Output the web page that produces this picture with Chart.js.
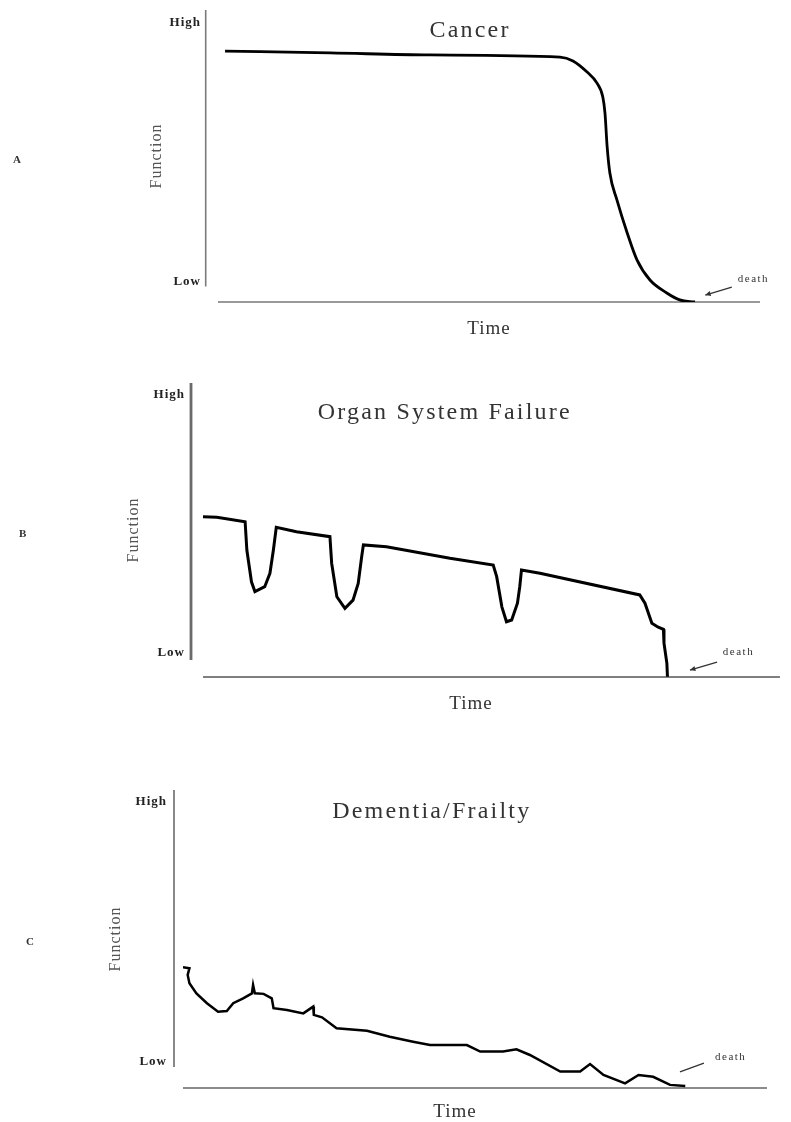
<!DOCTYPE html>
<html>
<head>
<meta charset="utf-8">
<script src="https://cdn.jsdelivr.net/npm/chart.js@4.4.1/dist/chart.umd.min.js"></script>
<style>
  html, body { margin: 0; padding: 0; background: #fff; }
  body { width: 791px; height: 1122px; position: relative; overflow: hidden; font-family: "Liberation Serif", serif; }
  canvas { position: absolute; left: 0; }
  .panel { position: absolute; font-size: 11px; font-weight: bold; color: #333; }
</style>
</head>
<body>
<canvas id="cancerChart" width="791" height="350" style="top:0"></canvas>
<canvas id="organChart" width="791" height="370" style="top:355px"></canvas>
<canvas id="frailtyChart" width="791" height="354" style="top:770px"></canvas>
<div class="panel" style="left:13px;top:153px">A</div>
<div class="panel" style="left:19px;top:527px">B</div>
<div class="panel" style="left:26px;top:935px">C</div>
<script>
// y axis only marks the two ends of the scale
const levelTicks = [0, 1];
const levelLabels = ["Low", "High"];

// A - cancer: long plateau, then a steep fall
const cancerTime = [1.3, 20.7, 39.1, 63.1, 65.5, 68.1, 69.9, 71.0, 71.4, 71.8, 72.3, 73.6, 75.5, 77.3, 79.7, 82.8, 85.2, 88.0];
const cancerFunction = [0.891, 0.884, 0.876, 0.868, 0.853, 0.810, 0.768, 0.713, 0.651, 0.520, 0.419, 0.315, 0.187, 0.083, 0.005, -0.045, -0.072, -0.080];

// B - organ system failure: slow decline with acute dips
const organTime = [0, 2.4, 7.3, 7.6, 8.4, 9.0, 10.7, 11.6, 12.2, 12.7, 16.2, 22.0, 22.3, 23.2, 24.6, 26.0, 26.9, 27.5, 27.8, 31.8,
    42.8, 50.3, 50.9, 51.8, 52.6, 53.5, 54.5, 54.9, 55.2, 58.4, 75.7, 76.6, 77.8, 78.9, 79.8, 79.9, 80.4, 80.5];
const organFunction = [0.528, 0.526, 0.509, 0.399, 0.276, 0.238, 0.257, 0.309, 0.399, 0.487, 0.470, 0.451, 0.348, 0.218, 0.173, 0.205, 0.270, 0.373, 0.419, 0.412,
    0.367, 0.341, 0.296, 0.179, 0.121, 0.128, 0.193, 0.257, 0.322, 0.309, 0.225, 0.193, 0.115, 0.100, 0.092, 0.038, -0.040, -0.092];

// C - dementia / frailty: low start, jagged slow decline
const frailtyTime = [0, 1.1, 0.8, 1.1, 2.3, 4.1, 6.0, 7.5, 8.6, 10.3, 11.8, 12.0, 12.3, 13.8, 15.2, 15.5, 17.8, 20.6, 22.3, 22.4,
    23.8, 26.3, 31.5, 35.4, 39.4, 42.3, 48.6, 50.9, 54.8, 57.1, 59.4, 64.6, 68.0, 69.7, 72.0, 75.7, 78.0, 80.5, 83.4, 86.0];
const frailtyFunction = [0.364, 0.360, 0.335, 0.303, 0.264, 0.226, 0.193, 0.196, 0.226, 0.245, 0.264, 0.296, 0.264, 0.262, 0.245, 0.207, 0.200, 0.187, 0.213, 0.181,
    0.172, 0.130, 0.120, 0.097, 0.078, 0.065, 0.065, 0.040, 0.040, 0.049, 0.027, -0.037, -0.037, -0.008, -0.050, -0.082, -0.050, -0.057, -0.088, -0.092];

Chart.defaults.font.family = '"Liberation Serif", serif';

// detached axis lines, panel title and the "death" pointer
const decor = {
    id: "decor",
    beforeDraw(chart) {
        chart.ctx.letterSpacing = "1px";
    },
    beforeDatasetsDraw(chart) {
        const o = chart.options.plugins.decor;
        const xs = chart.scales.x, ys = chart.scales.y;
        const ctx = chart.ctx;
        ctx.save();
        ctx.strokeStyle = o.yAxisColor;
        ctx.lineWidth = o.yAxisWidth;
        ctx.beginPath();
        ctx.moveTo(xs.getPixelForValue(o.yAxisAt), ys.getPixelForValue(ys.max));
        ctx.lineTo(xs.getPixelForValue(o.yAxisAt), ys.getPixelForValue(o.yAxisEnd));
        ctx.stroke();
        ctx.strokeStyle = o.xAxisColor;
        ctx.lineWidth = o.xAxisWidth;
        ctx.beginPath();
        ctx.moveTo(xs.getPixelForValue(0), ys.getPixelForValue(ys.min));
        ctx.lineTo(xs.getPixelForValue(o.xAxisEnd), ys.getPixelForValue(ys.min));
        ctx.stroke();
        ctx.restore();
    },
    afterDraw(chart) {
        const o = chart.options.plugins.decor;
        const xs = chart.scales.x, ys = chart.scales.y;
        const ctx = chart.ctx;
        const px = v => xs.getPixelForValue(v);
        const py = v => ys.getPixelForValue(v);
        ctx.save();
        ctx.fillStyle = "#333";
        ctx.textBaseline = "middle";
        ctx.textAlign = "center";
        ctx.letterSpacing = "2.2px";
        ctx.font = '24px "Liberation Serif"';
        ctx.fillText(o.title, px(o.titleAt[0]), py(o.titleAt[1]));

        ctx.textAlign = "left";
        ctx.letterSpacing = "1.5px";
        ctx.font = '11px "Liberation Serif"';
        ctx.fillText("death", px(o.deathAt[0]), py(o.deathAt[1]));

        const fx = px(o.arrowFrom[0]), fy = py(o.arrowFrom[1]);
        const tx = px(o.arrowTo[0]), ty = py(o.arrowTo[1]);
        ctx.strokeStyle = "#333";
        ctx.lineWidth = 1.3;
        ctx.beginPath();
        ctx.moveTo(fx, fy);
        ctx.lineTo(tx, ty);
        ctx.stroke();
        if (o.arrowHead) {
            const a = Math.atan2(fy - ty, fx - tx);
            ctx.beginPath();
            ctx.moveTo(fx, fy);
            ctx.lineTo(fx - 6 * Math.cos(a - 0.45), fy - 6 * Math.sin(a - 0.45));
            ctx.lineTo(fx - 6 * Math.cos(a + 0.45), fy - 6 * Math.sin(a + 0.45));
            ctx.closePath();
            ctx.fill();
        }
        ctx.restore();
    }
};

function makePanel(id, p) {
    const canvas = document.getElementById(id);
    const W = canvas.width, H = canvas.height;
    return new Chart(canvas, {
        type: "line",
        data: {
            datasets: [{
                data: p.time.map((t, i) => ({ x: t, y: p.values[i] })),
                borderColor: "#000",
                borderWidth: p.lineWidth,
                pointRadius: 0,
                fill: false,
                tension: p.tension,
                cubicInterpolationMode: p.mode
            }]
        },
        options: {
            responsive: false,
            animation: false,
            events: [],
            layout: { padding: { left: 0, top: p.area.top, right: W - p.area.right, bottom: 0 } },
            plugins: {
                legend: { display: false },
                tooltip: { enabled: false },
                decor: p.decor
            },
            scales: {
                x: {
                    type: "linear",
                    min: 0,
                    max: p.xMax,
                    grid: { display: false, drawTicks: false },
                    border: { display: false },
                    ticks: { display: false },
                    title: {
                        display: true,
                        text: "Time",
                        color: "#333",
                        font: { size: 19 },
                        padding: { top: 0, bottom: p.timePad }
                    },
                    afterFit: s => {
                        s.height = H - p.area.bottom;
                        s.paddingLeft = 0;
                        s.paddingRight = 0;
                    }
                },
                y: {
                    type: "linear",
                    min: p.yMin,
                    max: p.yMax,
                    grid: { display: false, drawTicks: false },
                    border: { display: false },
                    afterBuildTicks: s => { s.ticks = levelTicks.map(v => ({ value: v })); },
                    ticks: {
                        padding: p.tickPad,
                        color: "#222",
                        font: { size: 13, weight: "bold" },
                        callback: v => levelLabels[levelTicks.indexOf(v)]
                    },
                    title: {
                        display: true,
                        text: "Function",
                        color: "#555",
                        font: { size: 16 },
                        padding: { top: p.funcPad, bottom: 0 }
                    },
                    afterFit: s => {
                        s.width = p.area.left;
                        s.paddingTop = 0;
                        s.paddingBottom = 0;
                    }
                }
            }
        },
        plugins: [decor]
    });
}

makePanel("cancerChart", {
    time: cancerTime, values: cancerFunction,
    area: { left: 218, right: 760, top: 10, bottom: 302 },
    xMax: 100, yMin: -0.08, yMax: 1.05,
    lineWidth: 2.8, tension: 0.4, mode: "monotone",
    tickPad: 17, funcPad: 147, timePad: 9.6,
    decor: {
        title: "Cancer", titleAt: [46.5, 0.969],
        yAxisAt: -2.27, yAxisEnd: -0.02, yAxisColor: "#7a7a7a", yAxisWidth: 1.6,
        xAxisEnd: 100, xAxisColor: "#777", xAxisWidth: 1.6,
        deathAt: [95.9, 0.009], arrowFrom: [89.9, -0.053], arrowTo: [94.8, -0.022], arrowHead: true
    }
});

makePanel("organChart", {
    time: organTime, values: organFunction,
    area: { left: 203, right: 739, top: 28, bottom: 322 },
    xMax: 92.9, yMin: -0.093, yMax: 1.0465,
    lineWidth: 3, tension: 0, mode: "default",
    tickPad: 18, funcPad: 124, timePad: 9.6,
    decor: {
        title: "Organ System Failure", titleAt: [41.9, 0.930],
        yAxisAt: -2.08, yAxisEnd: -0.027, yAxisColor: "#6a6a6a", yAxisWidth: 2.8,
        xAxisEnd: 100, xAxisColor: "#555", xAxisWidth: 1.5,
        deathAt: [90.1, 0.002], arrowFrom: [84.4, -0.066], arrowTo: [89.1, -0.035], arrowHead: true
    }
});

makePanel("frailtyChart", {
    time: frailtyTime, values: frailtyFunction,
    area: { left: 183, right: 727, top: 20, bottom: 318 },
    xMax: 93.15, yMin: -0.1, yMax: 1.046,
    lineWidth: 2.5, tension: 0, mode: "default",
    tickPad: 16, funcPad: 106, timePad: 0.6,
    decor: {
        title: "Dementia/Frailty", titleAt: [42.6, 0.962],
        yAxisAt: -1.54, yAxisEnd: -0.019, yAxisColor: "#888", yAxisWidth: 2,
        xAxisEnd: 100, xAxisColor: "#666", xAxisWidth: 1.5,
        deathAt: [91.1, 0.019], arrowFrom: [85.1, -0.038], arrowTo: [89.2, -0.004], arrowHead: false
    }
});
</script>
</body>
</html>
